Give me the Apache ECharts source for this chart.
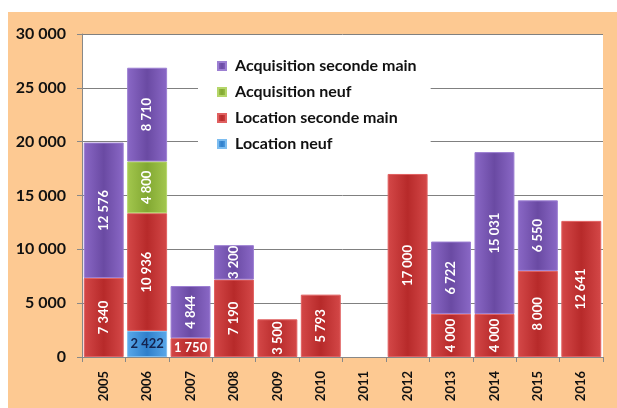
<!DOCTYPE html>
<html><head><meta charset="utf-8">
<script src="https://cdn.jsdelivr.net/npm/echarts@6/dist/echarts.min.js"></script>
<style>html,body{margin:0;padding:0;background:#fff}#c{width:617px;height:408px}</style>
</head><body><div id="c"></div>
<script>
const years = ['2005','2006','2007','2008','2009','2010','2011','2012','2013','2014','2015','2016'];
const locationNeuf = [null, 2422, null, null, null, null, null, null, null, null, null, null];
const locationSecondeMain = [7340, 10936, 1750, 7190, 3500, 5793, null, 17000, 4000, 4000, 8000, 12641];
const acquisitionNeuf = [null, 4800, null, null, null, null, null, null, null, null, null, null];
const acquisitionSecondeMain = [12576, 8710, 4844, 3200, null, null, null, null, 6722, 15031, 6550, null];
const yTicks = [0, 5000, 10000, 15000, 20000, 25000, 30000];

const fmt = v => String(v).replace(/\B(?=(\d{3})+(?!\d))/g, ' ');
const FONT = 'Lato';
function grad(a, b) {
  return new echarts.graphic.LinearGradient(0, 0, 1, 0, [
    {offset: 0, color: a}, {offset: 0.5, color: b}, {offset: 1, color: a}
  ]);
}
const baseLabel = {show: true, position: 'inside', rotate: 90, color: '#fff', fontFamily: FONT, fontWeight: 'bold', fontSize: 13,
  formatter: p => fmt(p.value)};

function mk(name, arr, c1, c2, border, special) {
  return {
    name, type: 'bar', stack: 'a', barCategoryGap: '8%',
    data: arr.map((v, i) => {
      if (v == null) return '-';
      if (special && special[i]) return {value: v, label: special[i]};
      return v;
    }),
    itemStyle: {color: grad(c1, c2), borderColor: border, borderWidth: 1},
    label: baseLabel,
    emphasis: {disabled: true}
  };
}

const chart = echarts.init(document.getElementById('c'), null, {renderer: 'canvas'});
chart.setOption({
  animation: false,
  backgroundColor: '#ffffff',
  graphic: [{type: 'rect', z: -10, shape: {x: 8, y: 12, width: 609, height: 396}, style: {fill: '#FDC992'}},
            {type: 'rect', z: -9, shape: {x: 82, y: 34, width: 521, height: 323}, style: {fill: '#ffffff'}}],
  grid: {left: 82, right: 14, top: 34, bottom: 51},
  legend: {
    data: ['Acquisition seconde main', 'Acquisition neuf', 'Location seconde main', 'Location neuf'],
    orient: 'vertical', left: 198, top: 44, width: 242,
    backgroundColor: '#ffffff',
    padding: [14, 14, 14, 19], itemGap: 10, itemWidth: 8, itemHeight: 8, icon: 'rect',
    textStyle: {fontFamily: FONT, fontWeight: 'bold', fontSize: 16, color: '#111', padding: [0, 0, 0, 4]}
  },
  xAxis: {
    type: 'category', data: years,
    axisLine: {lineStyle: {color: '#888'}},
    axisTick: {show: true, length: 5, lineStyle: {color: '#888'}},
    axisLabel: {rotate: 90, margin: 14, color: '#111', fontFamily: FONT, fontWeight: 'bold', fontSize: 13}
  },
  yAxis: {
    type: 'value', min: yTicks[0], max: yTicks[yTicks.length - 1], interval: yTicks[1] - yTicks[0],
    axisLine: {show: true, lineStyle: {color: '#888'}},
    axisTick: {show: true, length: 5, lineStyle: {color: '#888'}},
    splitLine: {lineStyle: {color: '#808080', width: 1}},
    axisLabel: {margin: 16, color: '#111', fontFamily: FONT, fontWeight: 'bold', fontSize: 16, formatter: v => fmt(v)}
  },
  series: [
    mk('Location neuf', locationNeuf, '#5AA8EA', '#2F7FCB', '#7DBDF0',
       {1: {show: true, position: 'inside', rotate: 0, color: '#14234F', fontFamily: FONT, fontWeight: 'bold', fontSize: 13, formatter: p => fmt(p.value)}}),
    mk('Location seconde main', locationSecondeMain, '#D44848', '#B72A2A', '#E06060',
       {2: {show: true, position: 'inside', rotate: 0, color: '#fff', fontFamily: FONT, fontWeight: 'bold', fontSize: 13, formatter: p => fmt(p.value)}}),
    mk('Acquisition neuf', acquisitionNeuf, '#A3C74E', '#82A832', '#B5D66A'),
    mk('Acquisition seconde main', acquisitionSecondeMain, '#8A68C6', '#6A4AA3', '#9C7FD2')
  ]
});
</script></body></html>
